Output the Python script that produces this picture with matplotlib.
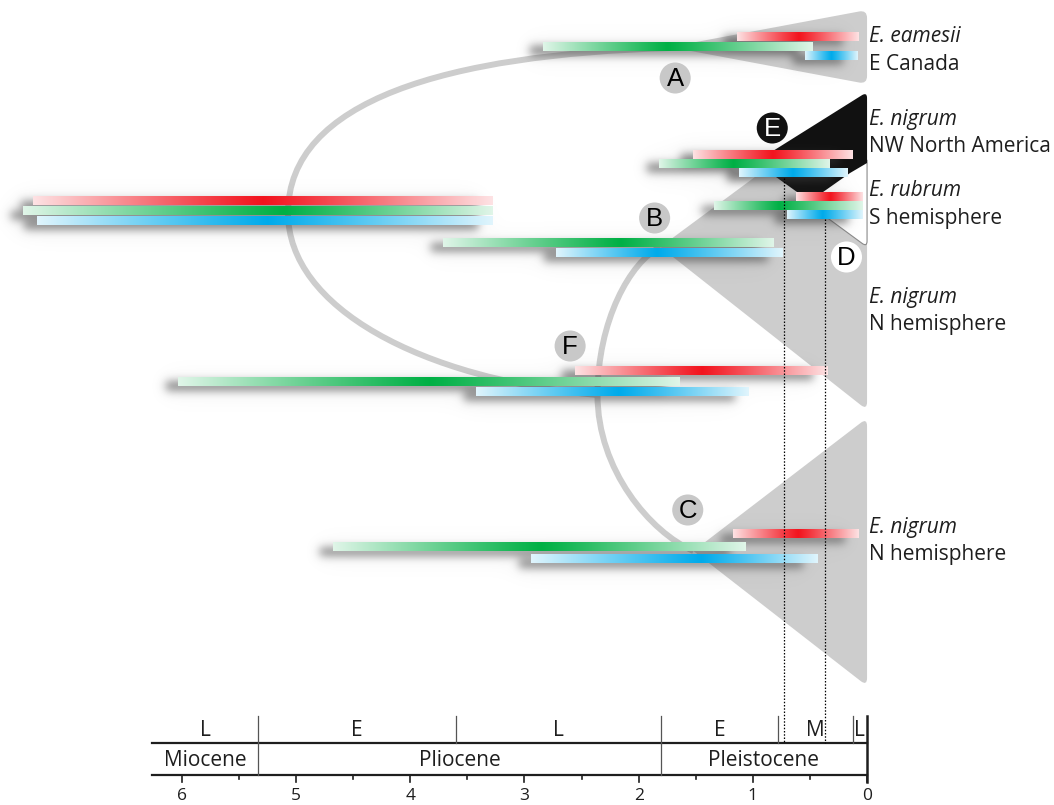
import numpy as np
import matplotlib
matplotlib.use('Agg')
import matplotlib.pyplot as plt
from matplotlib.path import Path
from matplotlib.patches import PathPatch

# ---------------- data (ages in Ma) ----------------
gene_colors = {'red': (0.95, 0.08, 0.12), 'green': (0.0, 0.69, 0.27), 'blue': (0.0, 0.67, 0.92)}

bar_node = ['root', 'root', 'root', 'A', 'A', 'A', 'E', 'E', 'E', 'D', 'D', 'D',
            'B', 'B', 'F', 'F', 'F', 'C', 'C', 'C']
bar_gene = ['red', 'green', 'blue'] * 4 + ['green', 'blue'] + ['red', 'green', 'blue'] * 2
bar_old = [7.30, 7.39, 7.27, 1.14, 2.84, 0.54, 1.52, 1.82, 1.12, 0.62, 1.34, 0.70,
           3.71, 2.72, 2.56, 6.03, 3.42, 1.17, 4.68, 2.94]
bar_mean = [5.29, 5.11, 5.25, 0.60, 1.75, 0.31, 0.82, 1.17, 0.65, 0.32, 0.77, 0.39,
            2.16, 1.84, 1.45, 3.83, 2.17, 0.60, 2.86, 1.45]
bar_young = [3.28, 3.28, 3.28, 0.08, 0.48, 0.08, 0.12, 0.33, 0.17, 0.04, 0.04, 0.04,
             0.82, 0.74, 0.35, 1.64, 1.03, 0.07, 1.07, 0.43]

node_age = {'root': 5.07, 'A': 1.73, 'F': 2.36, 'B': 1.81, 'C': 1.52, 'E': 0.81, 'D': 0.62}
node_label = ['A', 'E', 'B', 'D', 'F', 'C']
label_age = [1.68, 0.83, 1.86, 0.18, 2.60, 1.57]

tip_species = ['E. eamesii', 'E. nigrum', 'E. rubrum', 'E. nigrum', 'E. nigrum']
tip_region = ['E Canada', 'NW North America', 'S hemisphere', 'N hemisphere', 'N hemisphere']

epoch_names = ['Miocene', 'Pliocene', 'Pleistocene']
epoch_bounds = [6.26, 5.33, 1.806, 0.0]
sub_names = ['L', 'E', 'L', 'E', 'M', 'L']
sub_bounds = [6.26, 5.33, 3.6, 1.806, 0.781, 0.126, 0.0]
tick_vals = [6, 5, 4, 3, 2, 1, 0]
dotted_ages = [0.73, 0.37]

# ---------------- layout (vertical positions, px rows) ----------------
bar_y = [197, 207, 217, 33, 43, 52, 151, 160, 169, 193, 202, 211,
         239, 249, 367, 378, 388, 530, 543, 555]
BAR_H = 8.5
node_y = {'root': 213, 'A': 48, 'F': 395, 'B': 247, 'C': 551}
label_y = [78, 128, 218, 257, 346, 510]
tip_y = [37, 119, 191, 297, 527]
LINE_DY = 27.5

W, H = 1054, 805
fig = plt.figure(figsize=(W / 100, H / 100), dpi=100)
ax = fig.add_axes([0, 0, 1, 1])
XL = (7.592, -1.637)
YL = (805, 0)
ax.set_xlim(*XL)
ax.set_ylim(*YL)
ax.axis('off')
sx = W / (XL[0] - XL[1])  # px per Ma

GRAY = '#cdcdcd'
INK = '#1e1e1e'


def rounded_patch(pts, radii, **kw):
    # pts in (Ma, row); corners rounded by radius in px
    P = [np.array([-a * sx, y]) for a, y in pts]
    verts, codes = [], []
    n = len(P)
    for i in range(n):
        p, prv, nxt = P[i], P[i - 1], P[(i + 1) % n]
        r = radii[i]
        if r == 0:
            verts.append(p)
            codes.append(Path.MOVETO if i == 0 else Path.LINETO)
        else:
            a = p + r * (prv - p) / np.linalg.norm(prv - p)
            b = p + r * (nxt - p) / np.linalg.norm(nxt - p)
            verts += [a, p, b]
            codes += [Path.MOVETO if i == 0 else Path.LINETO, Path.CURVE3, Path.CURVE3]
    verts.append(verts[0])
    codes.append(Path.CLOSEPOLY)
    verts = [(-v[0] / sx, v[1]) for v in verts]
    return PathPatch(Path(verts, codes), **kw)


def arc(n0, n1, a, b, c):
    x0, y0 = node_age[n0], node_y[n0]
    x1, y1 = node_age[n1], node_y[n1]
    verts = [(x0, y0), (x0, y0 + a * (y1 - y0)),
             (x0 + b * (x1 - x0), y1 - c * (y1 - y0)), (x1, y1)]
    codes = [Path.MOVETO, Path.CURVE4, Path.CURVE4, Path.CURVE4]
    ax.add_patch(PathPatch(Path(verts, codes), fc='none', ec=GRAY, lw=4.3,
                           capstyle='butt', zorder=1))


# branches
arc('root', 'A', 0.685, 0.42, 0.04)
arc('root', 'F', 0.52, 0.43, 0.09)
arc('F', 'B', 0.5, 0.52, 0.10)
arc('F', 'C', 0.48, 0.55, 0.12)

# clade wedges
ax.add_patch(rounded_patch([(node_age['A'], 47), (0, 10), (0, 84)], [0, 8, 8],
                           fc=GRAY, ec='none', zorder=1))
ax.add_patch(rounded_patch([(node_age['B'], 247), (0, 94), (0, 410)], [0, 8, 8],
                           fc=GRAY, ec='none', zorder=1))
ax.add_patch(rounded_patch([(node_age['C'], 551), (0, 418), (0, 686)], [0, 8, 8],
                           fc=GRAY, ec='none', zorder=1))
ax.add_patch(rounded_patch([(node_age['D'], 195), (0, 160), (0, 247)], [0, 0, 6],
                           fc='white', ec='#8a8a8a', lw=0.8, zorder=2))
ax.add_patch(rounded_patch([(node_age['E'], 150), (0, 92), (0, 163), (0.149, 173),
                            (0.385, 192), (0.613, 192), (0.797, 177)],
                           [0, 6, 0, 0, 0, 0, 0], fc='#111111', ec='none', zorder=2.1))

# drop shadows of the bars
mask = np.zeros((H, W))
for old, young, y in zip(bar_old, bar_young, bar_y):
    X0, Y0 = ax.transData.transform((old, y))
    X1, Y1 = ax.transData.transform((young, y + BAR_H))
    c0, c1 = int(X0) - 12, int(X1) - 14
    r0, r1 = int(H - Y0) + 5, int(H - Y1) + 5
    mask[max(r0, 0):r1, max(c0, 0):c1] = 1


def blur(a, s):
    r = int(3 * s)
    k = np.exp(-0.5 * (np.arange(-r, r + 1) / s) ** 2)
    k /= k.sum()
    a = np.apply_along_axis(np.convolve, 1, a, k, mode='same')
    a = np.apply_along_axis(np.convolve, 0, a, k, mode='same')
    return a


alpha = np.clip(0.6 * blur(mask, 4.5) + 0.10 * blur(mask, 13), 0, 0.62)
shadow = np.zeros((H, W, 4))
shadow[..., :3] = 0.22
shadow[..., 3] = alpha
ax.imshow(shadow, extent=(XL[0], XL[1], YL[0], YL[1]), aspect='auto',
          interpolation='bilinear', zorder=3)

# gradient HPD bars
for gene, old, mean, young, y in zip(bar_gene, bar_old, bar_mean, bar_young, bar_y):
    xs = np.linspace(old, young, 600)
    d = np.where(xs >= mean, (xs - mean) / (old - mean), (mean - xs) / (mean - young))
    t = 1 - 0.88 * np.clip(d, 0, 1) ** 1.1
    c = np.array(gene_colors[gene])
    rgb = 1 - t[:, None] * (1 - c[None, :])
    ax.imshow(rgb[None, :, :], extent=(old, young, y + BAR_H, y), aspect='auto',
              interpolation='bilinear', zorder=4)

# dotted guide lines
for age, ys in zip(dotted_ages, [178, 219]):
    ax.plot([age, age], [ys, 743], color='black', lw=0.9, ls=(0, (1.2, 1.4)), zorder=6)

# node labels
label_fc = {'E': '#111111', 'D': 'white'}
for lab, age, y in zip(node_label, label_age, label_y):
    fc = label_fc.get(lab, '#c8c8c8')
    ax.scatter([age], [y], s=500, c=fc, edgecolors='none', zorder=7)
    ax.text(age, y + 1, lab, ha='center', va='center', fontsize=18.5,
            family='Liberation Sans', color='white' if lab == 'E' else 'black', zorder=8)

# tip labels
for sp, reg, y in zip(tip_species, tip_region, tip_y):
    ax.text(-0.02, y, sp, ha='left', va='center', fontsize=15, family='Open Sans',
            style='italic', color=INK)
    ax.text(-0.02, y + LINE_DY, reg, ha='left', va='center', fontsize=15,
            family='Open Sans', color=INK)

# geological time scale
ax.plot([epoch_bounds[0], 0], [743, 743], color=INK, lw=1.6)
ax.plot([epoch_bounds[0], 0], [775, 775], color=INK, lw=1.6)
for b in sub_bounds[1:-1]:
    ax.plot([b, b], [716, 743], color='#555555', lw=0.9)
for b in epoch_bounds[1:-1]:
    ax.plot([b, b], [743, 775], color='#555555', lw=0.9)
ax.plot([0, 0], [716, 782], color=INK, lw=1.8)
for i, name in enumerate(sub_names):
    ax.text((sub_bounds[i] + sub_bounds[i + 1]) / 2, 730, name, ha='center', va='center',
            fontsize=15, family='Open Sans', color=INK)
for i, name in enumerate(epoch_names):
    ax.text((epoch_bounds[i] + epoch_bounds[i + 1]) / 2, 760, name, ha='center',
            va='center', fontsize=15, family='Open Sans', color=INK)
for v in np.arange(0, 6.01, 0.5):
    ln = 7 if v == int(v) else 3.5
    ax.plot([v, v], [775, 775 + ln], color=INK, lw=1.2)
for v in tick_vals:
    ax.text(v, 796, str(v), ha='center', va='center', fontsize=12.5,
            family='Open Sans', color=INK)

ax.set_xlim(*XL)
ax.set_ylim(*YL)
fig.savefig('out.png', dpi=100)
